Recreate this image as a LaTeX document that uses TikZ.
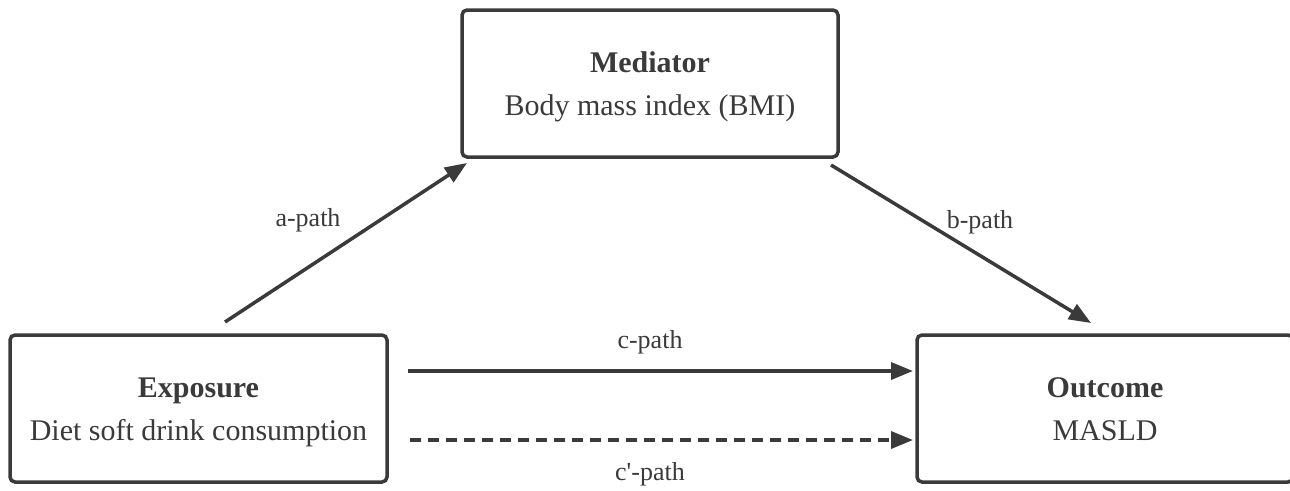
\documentclass[tikz,border=0pt]{standalone}
\usepackage{fontspec}
\setmainfont{Liberation Serif}
\usetikzlibrary{arrows.meta}
\definecolor{ink}{HTML}{3A3A3A}
\newcommand{\twolines}[2]{\rule{0pt}{28pt}\textbf{#1}\\#2\rule[-8pt]{0pt}{8pt}}
\tikzset{
  box/.style={draw=ink, line width=3.5pt, rounded corners=5pt, text=ink, align=center,
    inner sep=0pt, font=\fontsize{30}{43}\selectfont},
  conn/.style={draw=ink, line width=3.5pt, -{Triangle[length=22pt,width=17pt]}},
  lbl/.style={text=ink, font=\fontsize{26}{30}\selectfont, inner sep=0pt}
}
\begin{document}
\begin{tikzpicture}[x=1pt,y=-1pt]
\useasboundingbox (0,0) rectangle (1290,490);
\node[box, minimum width=376pt, minimum height=147pt] (med) at (650,83.5)
  {\twolines{Mediator}{Body mass index (BMI)}};
\node[box, minimum width=377pt, minimum height=147pt] (exp) at (198.5,408.5)
  {\twolines{Exposure}{Diet soft drink consumption}};
\node[box, minimum width=376pt, minimum height=147pt] (out) at (1105,408.5)
  {\twolines{Outcome}{MASLD}};
\coordinate (a0) at (225,322);
\coordinate (a1) at (467,163);
\coordinate (b0) at (831,165);
\coordinate (b1) at (1091,323);
\coordinate (c0) at (408,371);
\coordinate (c1) at (913,371);
\coordinate (d0) at (410,440);
\coordinate (d1) at (913,440);
\draw[conn] (a0) -- (a1);
\draw[conn] (b0) -- (b1);
\draw[conn] (c0) -- (c1);
\draw[conn, dash pattern=on 11pt off 7pt] (d0) -- (d1);
\node[lbl] (la) at (308,220) {a-path};
\node[lbl] (lb) at (980,222) {b-path};
\node[lbl] (lc) at (650,342) {c-path};
\node[lbl] (ld) at (650,474) {c\textquotesingle-path};
\end{tikzpicture}
\end{document}
